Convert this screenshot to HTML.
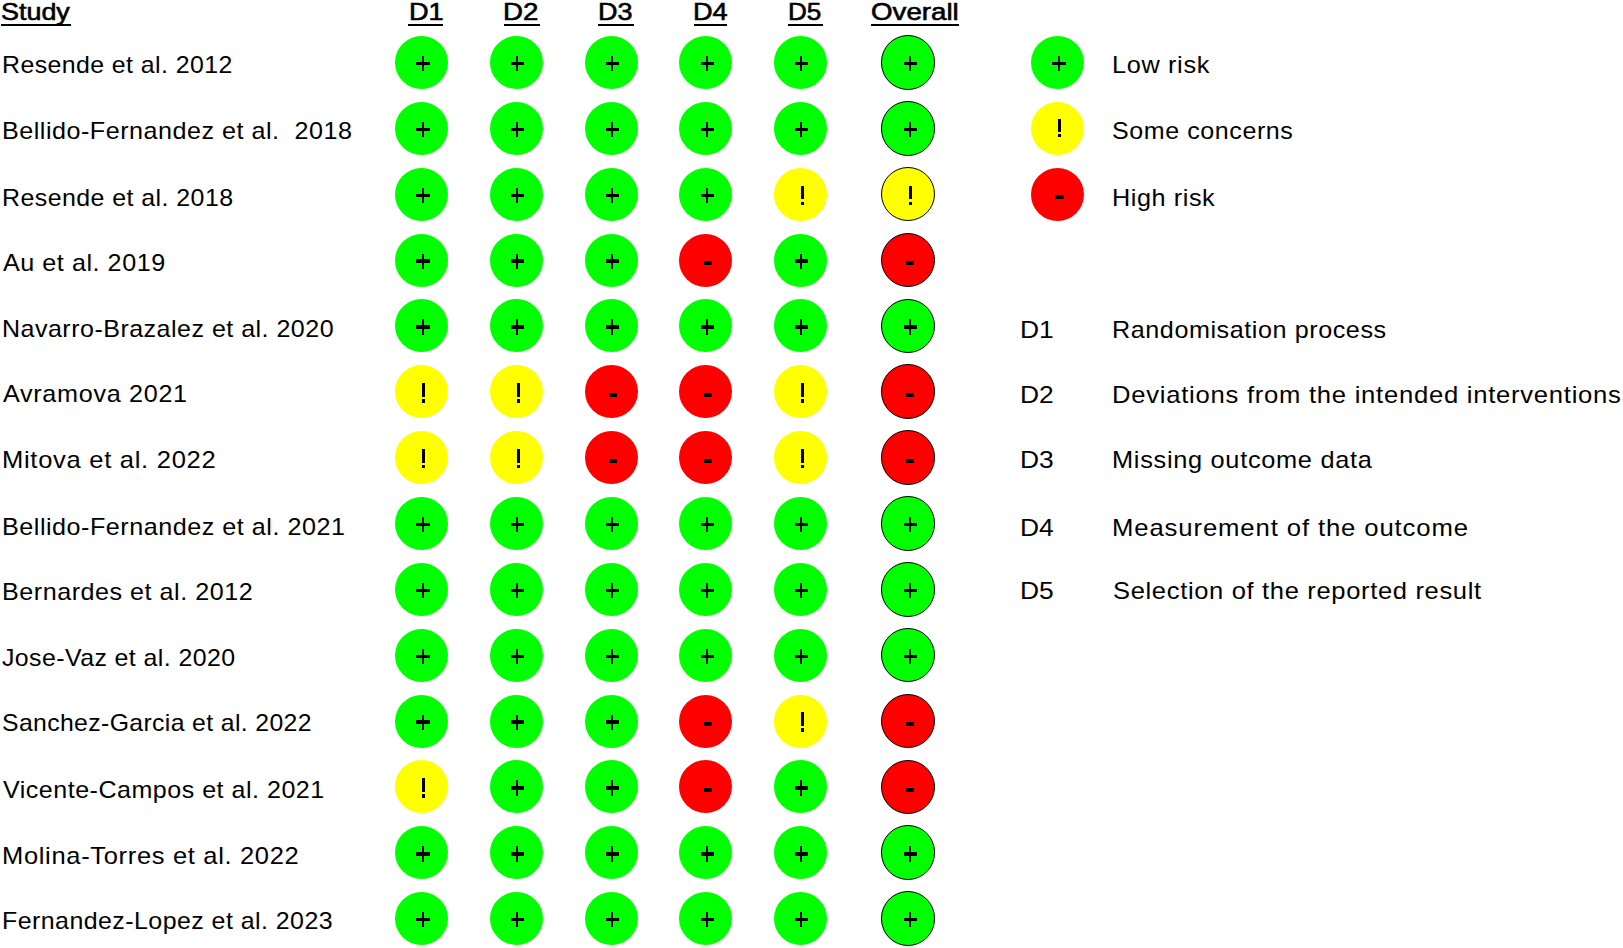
<!DOCTYPE html>
<html><head><meta charset="utf-8"><style>
html,body{margin:0;padding:0;background:#fff;}
body{width:1623px;height:948px;position:relative;overflow:hidden;font-family:"Liberation Sans",sans-serif;color:#000;}
.t{position:absolute;white-space:pre;line-height:40px;font-size:24px;transform-origin:0 0;}
.b{font-weight:normal;-webkit-text-stroke:0.6px #000;}
.u{position:absolute;height:2px;background:#000;top:24px;}
.c{position:absolute;border-radius:50%;}
.o{box-sizing:border-box;border:1.9px solid #000;}
.k{position:absolute;background:#000;}
</style></head><body>

<div class='t' style='left:2.23px;top:44.50px;transform:scaleX(1.0361);letter-spacing:0.410px'>Resende et al. 2012</div>
<div class='t' style='left:1.91px;top:110.70px;transform:scaleX(1.0467);letter-spacing:0.488px'>Bellido-Fernandez et al.  2018</div>
<div class='t' style='left:2.22px;top:177.60px;transform:scaleX(1.0380);letter-spacing:0.431px'>Resende et al. 2018</div>
<div class='t' style='left:2.60px;top:242.90px;transform:scaleX(1.0476);letter-spacing:0.514px'>Au et al. 2019</div>
<div class='t' style='left:1.91px;top:308.90px;transform:scaleX(1.0429);letter-spacing:0.462px'>Navarro-Brazalez et al. 2020</div>
<div class='t' style='left:2.60px;top:374.00px;transform:scaleX(1.0491);letter-spacing:0.651px'>Avramova 2021</div>
<div class='t' style='left:1.87px;top:440.00px;transform:scaleX(1.0645);letter-spacing:0.663px'>Mitova et al. 2022</div>
<div class='t' style='left:1.91px;top:506.90px;transform:scaleX(1.0471);letter-spacing:0.500px'>Bellido-Fernandez et al. 2021</div>
<div class='t' style='left:1.91px;top:571.50px;transform:scaleX(1.0463);letter-spacing:0.502px'>Bernardes et al. 2012</div>
<div class='t' style='left:1.56px;top:637.50px;transform:scaleX(1.0370);letter-spacing:0.404px'>Jose-Vaz et al. 2020</div>
<div class='t' style='left:2.17px;top:702.60px;transform:scaleX(1.0322);letter-spacing:0.360px'>Sanchez-Garcia et al. 2022</div>
<div class='t' style='left:3.40px;top:770.30px;transform:scaleX(1.0431);letter-spacing:0.487px'>Vicente-Campos et al. 2021</div>
<div class='t' style='left:1.98px;top:836.40px;transform:scaleX(1.0621);letter-spacing:0.636px'>Molina-Torres et al. 2022</div>
<div class='t' style='left:2.02px;top:901.20px;transform:scaleX(1.0388);letter-spacing:0.437px'>Fernandez-Lopez et al. 2023</div>
<div class='t b' style='left:1.38px;top:-8.00px;transform:scaleX(1.1213);letter-spacing:0.000px'>Study</div>
<div class='t b' style='left:408.74px;top:-7.70px;transform:scaleX(1.1321);letter-spacing:0.000px'>D1</div>
<div class='t b' style='left:502.99px;top:-7.70px;transform:scaleX(1.1536);letter-spacing:0.000px'>D2</div>
<div class='t b' style='left:598.25px;top:-7.70px;transform:scaleX(1.1250);letter-spacing:0.000px'>D3</div>
<div class='t b' style='left:693.04px;top:-7.70px;transform:scaleX(1.1321);letter-spacing:0.000px'>D4</div>
<div class='t b' style='left:787.73px;top:-7.70px;transform:scaleX(1.0857);letter-spacing:0.000px'>D5</div>
<div class='t b' style='left:870.65px;top:-7.70px;transform:scaleX(1.1541);letter-spacing:0.000px'>Overall</div>
<div class='t' style='left:1111.89px;top:45.10px;transform:scaleX(1.0535);letter-spacing:0.624px'>Low risk</div>
<div class='t' style='left:1111.96px;top:111.20px;transform:scaleX(1.0424);letter-spacing:0.560px'>Some concerns</div>
<div class='t' style='left:1111.90px;top:178.00px;transform:scaleX(1.0505);letter-spacing:0.547px'>High risk</div>
<div class='t' style='left:1020.00px;top:310.00px;transform:scaleX(1.1000);letter-spacing:0.000px'>D1</div>
<div class='t' style='left:1111.91px;top:310.00px;transform:scaleX(1.0468);letter-spacing:0.554px'>Randomisation process</div>
<div class='t' style='left:1020.00px;top:374.50px;transform:scaleX(1.1000);letter-spacing:0.000px'>D2</div>
<div class='t' style='left:1111.86px;top:374.50px;transform:scaleX(1.0678);letter-spacing:0.691px'>Deviations from the intended interventions</div>
<div class='t' style='left:1020.00px;top:440.20px;transform:scaleX(1.1000);letter-spacing:0.000px'>D3</div>
<div class='t' style='left:1111.89px;top:440.20px;transform:scaleX(1.0567);letter-spacing:0.655px'>Missing outcome data</div>
<div class='t' style='left:1020.00px;top:507.60px;transform:scaleX(1.1000);letter-spacing:0.000px'>D4</div>
<div class='t' style='left:1111.86px;top:507.60px;transform:scaleX(1.0707);letter-spacing:0.816px'>Measurement of the outcome</div>
<div class='t' style='left:1020.00px;top:571.40px;transform:scaleX(1.1000);letter-spacing:0.000px'>D5</div>
<div class='t' style='left:1112.94px;top:571.40px;transform:scaleX(1.0632);letter-spacing:0.625px'>Selection of the reported result</div>
<div class='u' style='left:0.9px;width:70.0px'></div>
<div class='u' style='left:408.0px;width:35.3px'></div>
<div class='u' style='left:504.0px;width:35.5px'></div>
<div class='u' style='left:598.1px;width:35.6px'></div>
<div class='u' style='left:694.0px;width:33.4px'></div>
<div class='u' style='left:788.3px;width:35.2px'></div>
<div class='u' style='left:870.5px;width:88.1px'></div>
<div class='c' style='left:394.50px;top:36.00px;width:53px;height:53px;background:#00ff00'></div><div class='k' style='left:416.40px;top:61.90px;width:13.4px;height:3.5px'></div><div class='k' style='left:421.50px;top:56.00px;width:2.8px;height:15.4px'></div>
<div class='c' style='left:489.50px;top:36.00px;width:53px;height:53px;background:#00ff00'></div><div class='k' style='left:510.50px;top:61.90px;width:13.4px;height:3.5px'></div><div class='k' style='left:515.60px;top:56.00px;width:2.8px;height:15.4px'></div>
<div class='c' style='left:584.50px;top:36.00px;width:53px;height:53px;background:#00ff00'></div><div class='k' style='left:605.50px;top:61.90px;width:13.4px;height:3.5px'></div><div class='k' style='left:610.60px;top:56.00px;width:2.8px;height:15.4px'></div>
<div class='c' style='left:679.10px;top:36.00px;width:53px;height:53px;background:#00ff00'></div><div class='k' style='left:700.50px;top:61.90px;width:13.4px;height:3.5px'></div><div class='k' style='left:705.60px;top:56.00px;width:2.8px;height:15.4px'></div>
<div class='c' style='left:774.00px;top:36.00px;width:53px;height:53px;background:#00ff00'></div><div class='k' style='left:794.50px;top:61.90px;width:13.4px;height:3.5px'></div><div class='k' style='left:799.60px;top:56.00px;width:2.8px;height:15.4px'></div>
<div class='c o' style='left:880.70px;top:35.20px;width:54.6px;height:54.6px;background:#00ff00'></div><div class='k' style='left:903.50px;top:61.90px;width:13.4px;height:3.5px'></div><div class='k' style='left:908.60px;top:56.00px;width:2.8px;height:15.4px'></div>
<div class='c' style='left:394.50px;top:101.85px;width:53px;height:53px;background:#00ff00'></div><div class='k' style='left:416.40px;top:127.75px;width:13.4px;height:3.5px'></div><div class='k' style='left:421.50px;top:121.85px;width:2.8px;height:15.4px'></div>
<div class='c' style='left:489.50px;top:101.85px;width:53px;height:53px;background:#00ff00'></div><div class='k' style='left:510.50px;top:127.75px;width:13.4px;height:3.5px'></div><div class='k' style='left:515.60px;top:121.85px;width:2.8px;height:15.4px'></div>
<div class='c' style='left:584.50px;top:101.85px;width:53px;height:53px;background:#00ff00'></div><div class='k' style='left:605.50px;top:127.75px;width:13.4px;height:3.5px'></div><div class='k' style='left:610.60px;top:121.85px;width:2.8px;height:15.4px'></div>
<div class='c' style='left:679.10px;top:101.85px;width:53px;height:53px;background:#00ff00'></div><div class='k' style='left:700.50px;top:127.75px;width:13.4px;height:3.5px'></div><div class='k' style='left:705.60px;top:121.85px;width:2.8px;height:15.4px'></div>
<div class='c' style='left:774.00px;top:101.85px;width:53px;height:53px;background:#00ff00'></div><div class='k' style='left:794.50px;top:127.75px;width:13.4px;height:3.5px'></div><div class='k' style='left:799.60px;top:121.85px;width:2.8px;height:15.4px'></div>
<div class='c o' style='left:880.70px;top:101.05px;width:54.6px;height:54.6px;background:#00ff00'></div><div class='k' style='left:903.50px;top:127.75px;width:13.4px;height:3.5px'></div><div class='k' style='left:908.60px;top:121.85px;width:2.8px;height:15.4px'></div>
<div class='c' style='left:394.50px;top:167.70px;width:53px;height:53px;background:#00ff00'></div><div class='k' style='left:416.40px;top:193.60px;width:13.4px;height:3.5px'></div><div class='k' style='left:421.50px;top:187.70px;width:2.8px;height:15.4px'></div>
<div class='c' style='left:489.50px;top:167.70px;width:53px;height:53px;background:#00ff00'></div><div class='k' style='left:510.50px;top:193.60px;width:13.4px;height:3.5px'></div><div class='k' style='left:515.60px;top:187.70px;width:2.8px;height:15.4px'></div>
<div class='c' style='left:584.50px;top:167.70px;width:53px;height:53px;background:#00ff00'></div><div class='k' style='left:605.50px;top:193.60px;width:13.4px;height:3.5px'></div><div class='k' style='left:610.60px;top:187.70px;width:2.8px;height:15.4px'></div>
<div class='c' style='left:679.10px;top:167.70px;width:53px;height:53px;background:#00ff00'></div><div class='k' style='left:700.50px;top:193.60px;width:13.4px;height:3.5px'></div><div class='k' style='left:705.60px;top:187.70px;width:2.8px;height:15.4px'></div>
<div class='c' style='left:774.00px;top:167.70px;width:53px;height:53px;background:#ffff00'></div><div class='k' style='left:800.50px;top:185.60px;width:3px;height:13.6px'></div><div class='k' style='left:800.50px;top:201.50px;width:3px;height:3.5px'></div>
<div class='c o' style='left:880.70px;top:166.90px;width:54.6px;height:54.6px;background:#ffff00'></div><div class='k' style='left:908.50px;top:185.60px;width:3px;height:13.6px'></div><div class='k' style='left:908.50px;top:201.50px;width:3px;height:3.5px'></div>
<div class='c' style='left:394.50px;top:233.55px;width:53px;height:53px;background:#00ff00'></div><div class='k' style='left:416.40px;top:259.45px;width:13.4px;height:3.5px'></div><div class='k' style='left:421.50px;top:253.55px;width:2.8px;height:15.4px'></div>
<div class='c' style='left:489.50px;top:233.55px;width:53px;height:53px;background:#00ff00'></div><div class='k' style='left:510.50px;top:259.45px;width:13.4px;height:3.5px'></div><div class='k' style='left:515.60px;top:253.55px;width:2.8px;height:15.4px'></div>
<div class='c' style='left:584.50px;top:233.55px;width:53px;height:53px;background:#00ff00'></div><div class='k' style='left:605.50px;top:259.45px;width:13.4px;height:3.5px'></div><div class='k' style='left:610.60px;top:253.55px;width:2.8px;height:15.4px'></div>
<div class='c' style='left:679.10px;top:233.55px;width:53px;height:53px;background:#ff0000'></div><div class='k' style='left:703.70px;top:261.25px;width:8.4px;height:3.8px'></div>
<div class='c' style='left:774.00px;top:233.55px;width:53px;height:53px;background:#00ff00'></div><div class='k' style='left:794.50px;top:259.45px;width:13.4px;height:3.5px'></div><div class='k' style='left:799.60px;top:253.55px;width:2.8px;height:15.4px'></div>
<div class='c o' style='left:880.70px;top:232.75px;width:54.6px;height:54.6px;background:#ff0000'></div><div class='k' style='left:905.80px;top:261.25px;width:8.4px;height:3.8px'></div>
<div class='c' style='left:394.50px;top:299.40px;width:53px;height:53px;background:#00ff00'></div><div class='k' style='left:416.40px;top:325.30px;width:13.4px;height:3.5px'></div><div class='k' style='left:421.50px;top:319.40px;width:2.8px;height:15.4px'></div>
<div class='c' style='left:489.50px;top:299.40px;width:53px;height:53px;background:#00ff00'></div><div class='k' style='left:510.50px;top:325.30px;width:13.4px;height:3.5px'></div><div class='k' style='left:515.60px;top:319.40px;width:2.8px;height:15.4px'></div>
<div class='c' style='left:584.50px;top:299.40px;width:53px;height:53px;background:#00ff00'></div><div class='k' style='left:605.50px;top:325.30px;width:13.4px;height:3.5px'></div><div class='k' style='left:610.60px;top:319.40px;width:2.8px;height:15.4px'></div>
<div class='c' style='left:679.10px;top:299.40px;width:53px;height:53px;background:#00ff00'></div><div class='k' style='left:700.50px;top:325.30px;width:13.4px;height:3.5px'></div><div class='k' style='left:705.60px;top:319.40px;width:2.8px;height:15.4px'></div>
<div class='c' style='left:774.00px;top:299.40px;width:53px;height:53px;background:#00ff00'></div><div class='k' style='left:794.50px;top:325.30px;width:13.4px;height:3.5px'></div><div class='k' style='left:799.60px;top:319.40px;width:2.8px;height:15.4px'></div>
<div class='c o' style='left:880.70px;top:298.60px;width:54.6px;height:54.6px;background:#00ff00'></div><div class='k' style='left:903.50px;top:325.30px;width:13.4px;height:3.5px'></div><div class='k' style='left:908.60px;top:319.40px;width:2.8px;height:15.4px'></div>
<div class='c' style='left:394.50px;top:365.25px;width:53px;height:53px;background:#ffff00'></div><div class='k' style='left:422.40px;top:383.15px;width:3px;height:13.6px'></div><div class='k' style='left:422.40px;top:399.05px;width:3px;height:3.5px'></div>
<div class='c' style='left:489.50px;top:365.25px;width:53px;height:53px;background:#ffff00'></div><div class='k' style='left:516.50px;top:383.15px;width:3px;height:13.6px'></div><div class='k' style='left:516.50px;top:399.05px;width:3px;height:3.5px'></div>
<div class='c' style='left:584.50px;top:365.25px;width:53px;height:53px;background:#ff0000'></div><div class='k' style='left:608.80px;top:392.95px;width:8.4px;height:3.8px'></div>
<div class='c' style='left:679.10px;top:365.25px;width:53px;height:53px;background:#ff0000'></div><div class='k' style='left:703.70px;top:392.95px;width:8.4px;height:3.8px'></div>
<div class='c' style='left:774.00px;top:365.25px;width:53px;height:53px;background:#ffff00'></div><div class='k' style='left:800.50px;top:383.15px;width:3px;height:13.6px'></div><div class='k' style='left:800.50px;top:399.05px;width:3px;height:3.5px'></div>
<div class='c o' style='left:880.70px;top:364.45px;width:54.6px;height:54.6px;background:#ff0000'></div><div class='k' style='left:905.80px;top:392.95px;width:8.4px;height:3.8px'></div>
<div class='c' style='left:394.50px;top:431.10px;width:53px;height:53px;background:#ffff00'></div><div class='k' style='left:422.40px;top:449.00px;width:3px;height:13.6px'></div><div class='k' style='left:422.40px;top:464.90px;width:3px;height:3.5px'></div>
<div class='c' style='left:489.50px;top:431.10px;width:53px;height:53px;background:#ffff00'></div><div class='k' style='left:516.50px;top:449.00px;width:3px;height:13.6px'></div><div class='k' style='left:516.50px;top:464.90px;width:3px;height:3.5px'></div>
<div class='c' style='left:584.50px;top:431.10px;width:53px;height:53px;background:#ff0000'></div><div class='k' style='left:608.80px;top:458.80px;width:8.4px;height:3.8px'></div>
<div class='c' style='left:679.10px;top:431.10px;width:53px;height:53px;background:#ff0000'></div><div class='k' style='left:703.70px;top:458.80px;width:8.4px;height:3.8px'></div>
<div class='c' style='left:774.00px;top:431.10px;width:53px;height:53px;background:#ffff00'></div><div class='k' style='left:800.50px;top:449.00px;width:3px;height:13.6px'></div><div class='k' style='left:800.50px;top:464.90px;width:3px;height:3.5px'></div>
<div class='c o' style='left:880.70px;top:430.30px;width:54.6px;height:54.6px;background:#ff0000'></div><div class='k' style='left:905.80px;top:458.80px;width:8.4px;height:3.8px'></div>
<div class='c' style='left:394.50px;top:496.95px;width:53px;height:53px;background:#00ff00'></div><div class='k' style='left:416.40px;top:522.85px;width:13.4px;height:3.5px'></div><div class='k' style='left:421.50px;top:516.95px;width:2.8px;height:15.4px'></div>
<div class='c' style='left:489.50px;top:496.95px;width:53px;height:53px;background:#00ff00'></div><div class='k' style='left:510.50px;top:522.85px;width:13.4px;height:3.5px'></div><div class='k' style='left:515.60px;top:516.95px;width:2.8px;height:15.4px'></div>
<div class='c' style='left:584.50px;top:496.95px;width:53px;height:53px;background:#00ff00'></div><div class='k' style='left:605.50px;top:522.85px;width:13.4px;height:3.5px'></div><div class='k' style='left:610.60px;top:516.95px;width:2.8px;height:15.4px'></div>
<div class='c' style='left:679.10px;top:496.95px;width:53px;height:53px;background:#00ff00'></div><div class='k' style='left:700.50px;top:522.85px;width:13.4px;height:3.5px'></div><div class='k' style='left:705.60px;top:516.95px;width:2.8px;height:15.4px'></div>
<div class='c' style='left:774.00px;top:496.95px;width:53px;height:53px;background:#00ff00'></div><div class='k' style='left:794.50px;top:522.85px;width:13.4px;height:3.5px'></div><div class='k' style='left:799.60px;top:516.95px;width:2.8px;height:15.4px'></div>
<div class='c o' style='left:880.70px;top:496.15px;width:54.6px;height:54.6px;background:#00ff00'></div><div class='k' style='left:903.50px;top:522.85px;width:13.4px;height:3.5px'></div><div class='k' style='left:908.60px;top:516.95px;width:2.8px;height:15.4px'></div>
<div class='c' style='left:394.50px;top:562.80px;width:53px;height:53px;background:#00ff00'></div><div class='k' style='left:416.40px;top:588.70px;width:13.4px;height:3.5px'></div><div class='k' style='left:421.50px;top:582.80px;width:2.8px;height:15.4px'></div>
<div class='c' style='left:489.50px;top:562.80px;width:53px;height:53px;background:#00ff00'></div><div class='k' style='left:510.50px;top:588.70px;width:13.4px;height:3.5px'></div><div class='k' style='left:515.60px;top:582.80px;width:2.8px;height:15.4px'></div>
<div class='c' style='left:584.50px;top:562.80px;width:53px;height:53px;background:#00ff00'></div><div class='k' style='left:605.50px;top:588.70px;width:13.4px;height:3.5px'></div><div class='k' style='left:610.60px;top:582.80px;width:2.8px;height:15.4px'></div>
<div class='c' style='left:679.10px;top:562.80px;width:53px;height:53px;background:#00ff00'></div><div class='k' style='left:700.50px;top:588.70px;width:13.4px;height:3.5px'></div><div class='k' style='left:705.60px;top:582.80px;width:2.8px;height:15.4px'></div>
<div class='c' style='left:774.00px;top:562.80px;width:53px;height:53px;background:#00ff00'></div><div class='k' style='left:794.50px;top:588.70px;width:13.4px;height:3.5px'></div><div class='k' style='left:799.60px;top:582.80px;width:2.8px;height:15.4px'></div>
<div class='c o' style='left:880.70px;top:562.00px;width:54.6px;height:54.6px;background:#00ff00'></div><div class='k' style='left:903.50px;top:588.70px;width:13.4px;height:3.5px'></div><div class='k' style='left:908.60px;top:582.80px;width:2.8px;height:15.4px'></div>
<div class='c' style='left:394.50px;top:628.65px;width:53px;height:53px;background:#00ff00'></div><div class='k' style='left:416.40px;top:654.55px;width:13.4px;height:3.5px'></div><div class='k' style='left:421.50px;top:648.65px;width:2.8px;height:15.4px'></div>
<div class='c' style='left:489.50px;top:628.65px;width:53px;height:53px;background:#00ff00'></div><div class='k' style='left:510.50px;top:654.55px;width:13.4px;height:3.5px'></div><div class='k' style='left:515.60px;top:648.65px;width:2.8px;height:15.4px'></div>
<div class='c' style='left:584.50px;top:628.65px;width:53px;height:53px;background:#00ff00'></div><div class='k' style='left:605.50px;top:654.55px;width:13.4px;height:3.5px'></div><div class='k' style='left:610.60px;top:648.65px;width:2.8px;height:15.4px'></div>
<div class='c' style='left:679.10px;top:628.65px;width:53px;height:53px;background:#00ff00'></div><div class='k' style='left:700.50px;top:654.55px;width:13.4px;height:3.5px'></div><div class='k' style='left:705.60px;top:648.65px;width:2.8px;height:15.4px'></div>
<div class='c' style='left:774.00px;top:628.65px;width:53px;height:53px;background:#00ff00'></div><div class='k' style='left:794.50px;top:654.55px;width:13.4px;height:3.5px'></div><div class='k' style='left:799.60px;top:648.65px;width:2.8px;height:15.4px'></div>
<div class='c o' style='left:880.70px;top:627.85px;width:54.6px;height:54.6px;background:#00ff00'></div><div class='k' style='left:903.50px;top:654.55px;width:13.4px;height:3.5px'></div><div class='k' style='left:908.60px;top:648.65px;width:2.8px;height:15.4px'></div>
<div class='c' style='left:394.50px;top:694.50px;width:53px;height:53px;background:#00ff00'></div><div class='k' style='left:416.40px;top:720.40px;width:13.4px;height:3.5px'></div><div class='k' style='left:421.50px;top:714.50px;width:2.8px;height:15.4px'></div>
<div class='c' style='left:489.50px;top:694.50px;width:53px;height:53px;background:#00ff00'></div><div class='k' style='left:510.50px;top:720.40px;width:13.4px;height:3.5px'></div><div class='k' style='left:515.60px;top:714.50px;width:2.8px;height:15.4px'></div>
<div class='c' style='left:584.50px;top:694.50px;width:53px;height:53px;background:#00ff00'></div><div class='k' style='left:605.50px;top:720.40px;width:13.4px;height:3.5px'></div><div class='k' style='left:610.60px;top:714.50px;width:2.8px;height:15.4px'></div>
<div class='c' style='left:679.10px;top:694.50px;width:53px;height:53px;background:#ff0000'></div><div class='k' style='left:703.70px;top:722.20px;width:8.4px;height:3.8px'></div>
<div class='c' style='left:774.00px;top:694.50px;width:53px;height:53px;background:#ffff00'></div><div class='k' style='left:800.50px;top:712.40px;width:3px;height:13.6px'></div><div class='k' style='left:800.50px;top:728.30px;width:3px;height:3.5px'></div>
<div class='c o' style='left:880.70px;top:693.70px;width:54.6px;height:54.6px;background:#ff0000'></div><div class='k' style='left:905.80px;top:722.20px;width:8.4px;height:3.8px'></div>
<div class='c' style='left:394.50px;top:760.35px;width:53px;height:53px;background:#ffff00'></div><div class='k' style='left:422.40px;top:778.25px;width:3px;height:13.6px'></div><div class='k' style='left:422.40px;top:794.15px;width:3px;height:3.5px'></div>
<div class='c' style='left:489.50px;top:760.35px;width:53px;height:53px;background:#00ff00'></div><div class='k' style='left:510.50px;top:786.25px;width:13.4px;height:3.5px'></div><div class='k' style='left:515.60px;top:780.35px;width:2.8px;height:15.4px'></div>
<div class='c' style='left:584.50px;top:760.35px;width:53px;height:53px;background:#00ff00'></div><div class='k' style='left:605.50px;top:786.25px;width:13.4px;height:3.5px'></div><div class='k' style='left:610.60px;top:780.35px;width:2.8px;height:15.4px'></div>
<div class='c' style='left:679.10px;top:760.35px;width:53px;height:53px;background:#ff0000'></div><div class='k' style='left:703.70px;top:788.05px;width:8.4px;height:3.8px'></div>
<div class='c' style='left:774.00px;top:760.35px;width:53px;height:53px;background:#00ff00'></div><div class='k' style='left:794.50px;top:786.25px;width:13.4px;height:3.5px'></div><div class='k' style='left:799.60px;top:780.35px;width:2.8px;height:15.4px'></div>
<div class='c o' style='left:880.70px;top:759.55px;width:54.6px;height:54.6px;background:#ff0000'></div><div class='k' style='left:905.80px;top:788.05px;width:8.4px;height:3.8px'></div>
<div class='c' style='left:394.50px;top:826.20px;width:53px;height:53px;background:#00ff00'></div><div class='k' style='left:416.40px;top:852.10px;width:13.4px;height:3.5px'></div><div class='k' style='left:421.50px;top:846.20px;width:2.8px;height:15.4px'></div>
<div class='c' style='left:489.50px;top:826.20px;width:53px;height:53px;background:#00ff00'></div><div class='k' style='left:510.50px;top:852.10px;width:13.4px;height:3.5px'></div><div class='k' style='left:515.60px;top:846.20px;width:2.8px;height:15.4px'></div>
<div class='c' style='left:584.50px;top:826.20px;width:53px;height:53px;background:#00ff00'></div><div class='k' style='left:605.50px;top:852.10px;width:13.4px;height:3.5px'></div><div class='k' style='left:610.60px;top:846.20px;width:2.8px;height:15.4px'></div>
<div class='c' style='left:679.10px;top:826.20px;width:53px;height:53px;background:#00ff00'></div><div class='k' style='left:700.50px;top:852.10px;width:13.4px;height:3.5px'></div><div class='k' style='left:705.60px;top:846.20px;width:2.8px;height:15.4px'></div>
<div class='c' style='left:774.00px;top:826.20px;width:53px;height:53px;background:#00ff00'></div><div class='k' style='left:794.50px;top:852.10px;width:13.4px;height:3.5px'></div><div class='k' style='left:799.60px;top:846.20px;width:2.8px;height:15.4px'></div>
<div class='c o' style='left:880.70px;top:825.40px;width:54.6px;height:54.6px;background:#00ff00'></div><div class='k' style='left:903.50px;top:852.10px;width:13.4px;height:3.5px'></div><div class='k' style='left:908.60px;top:846.20px;width:2.8px;height:15.4px'></div>
<div class='c' style='left:394.50px;top:892.05px;width:53px;height:53px;background:#00ff00'></div><div class='k' style='left:416.40px;top:917.95px;width:13.4px;height:3.5px'></div><div class='k' style='left:421.50px;top:912.05px;width:2.8px;height:15.4px'></div>
<div class='c' style='left:489.50px;top:892.05px;width:53px;height:53px;background:#00ff00'></div><div class='k' style='left:510.50px;top:917.95px;width:13.4px;height:3.5px'></div><div class='k' style='left:515.60px;top:912.05px;width:2.8px;height:15.4px'></div>
<div class='c' style='left:584.50px;top:892.05px;width:53px;height:53px;background:#00ff00'></div><div class='k' style='left:605.50px;top:917.95px;width:13.4px;height:3.5px'></div><div class='k' style='left:610.60px;top:912.05px;width:2.8px;height:15.4px'></div>
<div class='c' style='left:679.10px;top:892.05px;width:53px;height:53px;background:#00ff00'></div><div class='k' style='left:700.50px;top:917.95px;width:13.4px;height:3.5px'></div><div class='k' style='left:705.60px;top:912.05px;width:2.8px;height:15.4px'></div>
<div class='c' style='left:774.00px;top:892.05px;width:53px;height:53px;background:#00ff00'></div><div class='k' style='left:794.50px;top:917.95px;width:13.4px;height:3.5px'></div><div class='k' style='left:799.60px;top:912.05px;width:2.8px;height:15.4px'></div>
<div class='c o' style='left:880.70px;top:891.25px;width:54.6px;height:54.6px;background:#00ff00'></div><div class='k' style='left:903.50px;top:917.95px;width:13.4px;height:3.5px'></div><div class='k' style='left:908.60px;top:912.05px;width:2.8px;height:15.4px'></div>
<div class='c' style='left:1031.00px;top:36.00px;width:53px;height:53px;background:#00ff00'></div><div class='k' style='left:1052.40px;top:61.90px;width:13.4px;height:3.5px'></div><div class='k' style='left:1057.50px;top:56.00px;width:2.8px;height:15.4px'></div>
<div class='c' style='left:1031.00px;top:101.85px;width:53px;height:53px;background:#ffff00'></div><div class='k' style='left:1057.50px;top:118.75px;width:3px;height:13.6px'></div><div class='k' style='left:1057.50px;top:133.65px;width:3px;height:3.5px'></div>
<div class='c' style='left:1031.00px;top:167.70px;width:53px;height:53px;background:#ff0000'></div><div class='k' style='left:1055.40px;top:195.40px;width:8.4px;height:3.8px'></div>
</body></html>
